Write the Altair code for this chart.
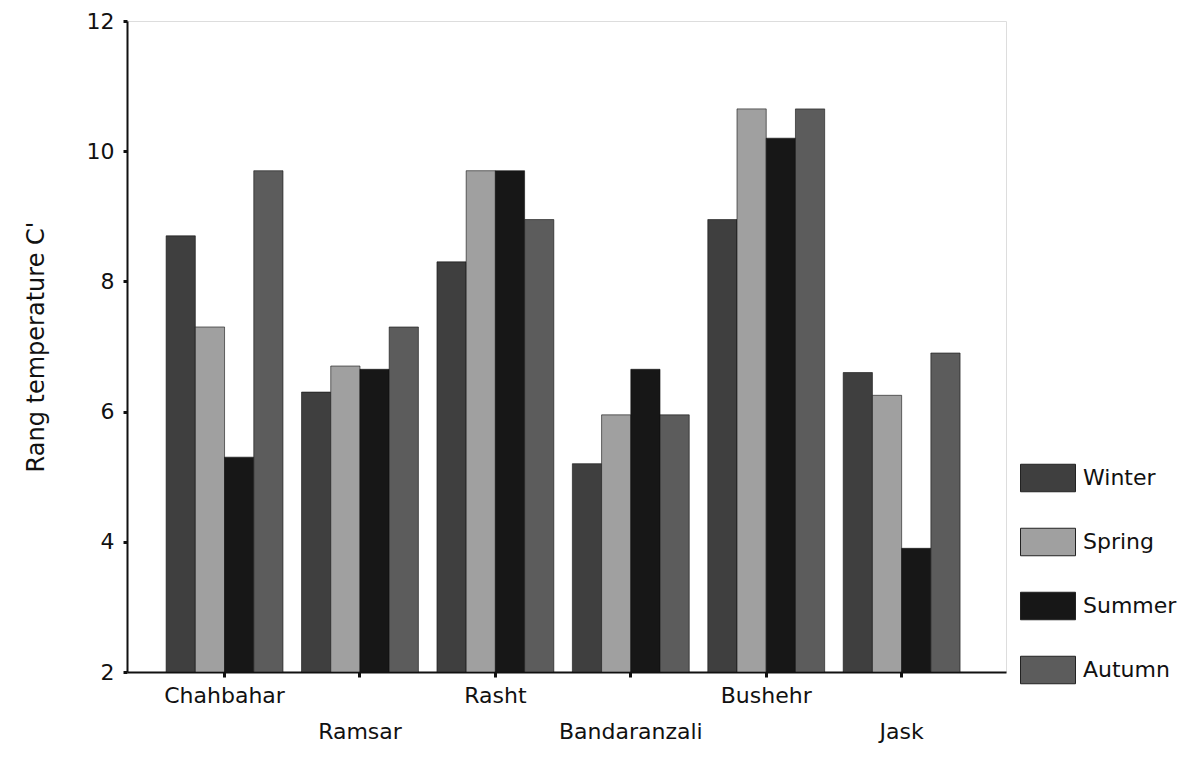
import altair as alt
import pandas as pd

stations = ["Chahbahar", "Ramsar", "Rasht", "Bandaranzali", "Bushehr", "Jask"]
seasons = ["Winter", "Spring", "Summer", "Autumn"]
winter = [8.7, 6.3, 8.3, 5.2, 8.95, 6.6]
spring = [7.3, 6.7, 9.7, 5.95, 10.65, 6.25]
summer = [5.3, 6.65, 9.7, 6.65, 10.2, 3.9]
autumn = [9.7, 7.3, 8.95, 5.95, 10.65, 6.9]
season_colors = ["#3f3f3f", "#a0a0a0", "#171717", "#5c5c5c"]
y_ticks = [2, 4, 6, 8, 10, 12]

rows = []
for name, vals in zip(seasons, [winter, spring, summer, autumn]):
    for st, v in zip(stations, vals):
        rows.append({"station": st, "season": name, "value": v})
df = pd.DataFrame(rows)

second_line = ["Ramsar", "Bandaranzali", "Jask"]
label_expr = ("indexof(" + str(second_line) + ", datum.label) >= 0 ? ['', datum.label] : datum.label")

FONT = "DejaVu Sans"

chart = alt.Chart(df).mark_bar(stroke="#111111", strokeWidth=0.6).encode(
    x=alt.X("station:N", sort=stations,
            scale=alt.Scale(paddingInner=0.137, paddingOuter=0.314, align=0.46),
            axis=alt.Axis(title=None, labelAngle=0, labelExpr=label_expr,
                          labelFont=FONT, labelFontSize=22, labelColor="#111111",
                          labelLineHeight=36, labelBaseline="top", labelPadding=8,
                          tickSize=5, tickWidth=3, tickColor="#111111",
                          domainColor="#111111", domainWidth=2, grid=False)),
    xOffset=alt.XOffset("season:N", sort=seasons, scale=alt.Scale(paddingInner=0, paddingOuter=0)),
    y=alt.Y("value:Q", scale=alt.Scale(domain=[2, 12], nice=False, zero=False),
            axis=alt.Axis(title="Rang temperature C'", values=y_ticks, format="d",
                          titleFont=FONT, titleFontSize=24, titleFontWeight="normal",
                          titleColor="#111111", titlePadding=38,
                          labelFont=FONT, labelFontSize=22, labelColor="#111111",
                          tickSize=4, tickWidth=3, tickColor="#111111", labelPadding=9,
                          domainColor="#111111", domainWidth=2, grid=False)),
    y2=alt.datum(2),
    color=alt.Color("season:N", sort=seasons,
                    scale=alt.Scale(domain=seasons, range=season_colors),
                    legend=alt.Legend(title=None, orient="none", legendX=893, legendY=429,
                                      symbolType="M-1,-0.5H1V0.5H-1Z", symbolSize=3025,
                                      symbolStrokeColor="#222222", symbolStrokeWidth=1,
                                      symbolOpacity=1,
                                      labelFont=FONT, labelFontSize=22,
                                      labelColor="#111111", labelOffset=7,
                                      rowPadding=20)),
).properties(
    width=879, height=651,
    autosize=alt.AutoSizeParams(type="none"),
    padding={"left": 119, "top": 13, "right": 180, "bottom": 90},
).configure_view(stroke="#111111", strokeWidth=2).configure(background="white")

chart.save("out.html", embed_options={"renderer": "svg", "actions": False})
